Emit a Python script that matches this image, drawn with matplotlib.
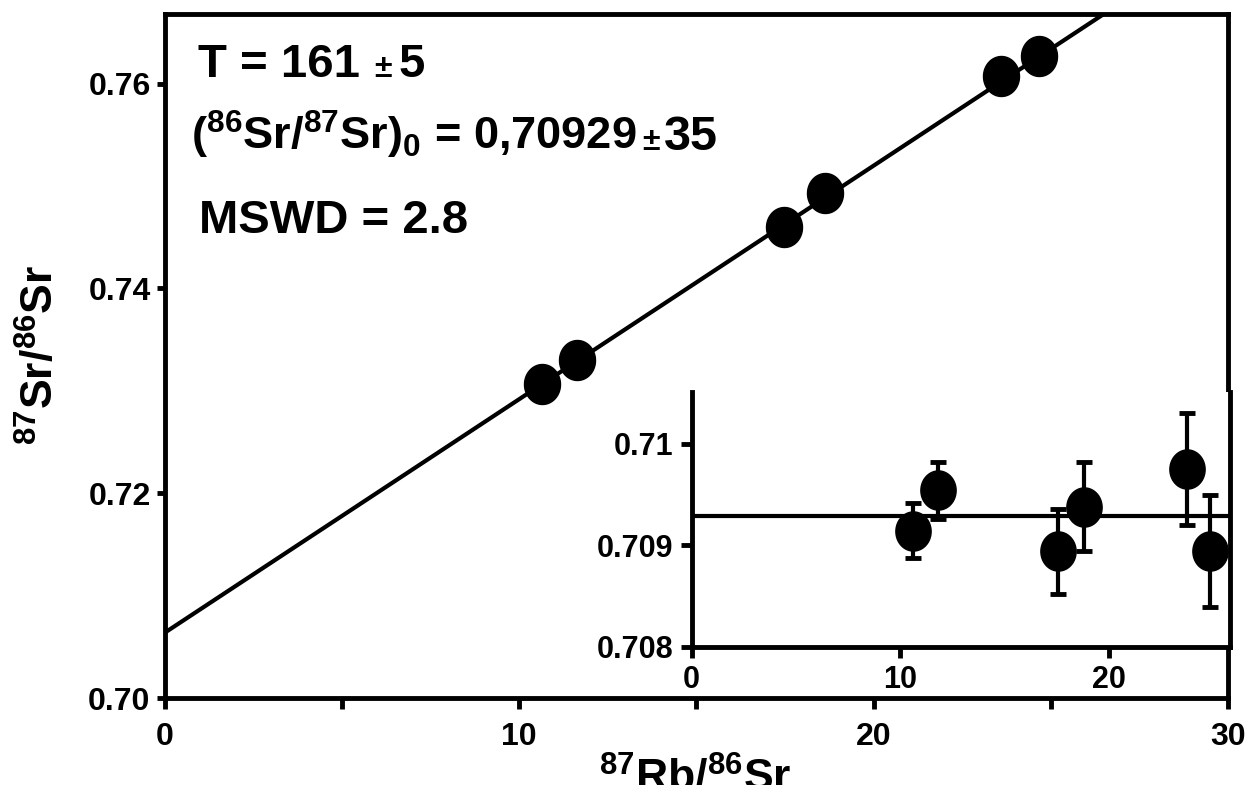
import numpy as np
import matplotlib
matplotlib.use("Agg")
import matplotlib.pyplot as plt
from matplotlib.path import Path

plt.rcParams['font.family'] = ['Liberation Sans', 'DejaVu Sans']
plt.rcParams['font.weight'] = 'bold'
plt.rcParams['mathtext.fontset'] = 'custom'
plt.rcParams['mathtext.rm'] = 'Liberation Sans:bold'
plt.rcParams['mathtext.it'] = 'Liberation Sans:bold'
plt.rcParams['mathtext.bf'] = 'Liberation Sans:bold'

# isochron data
rb_sr = [10.64, 11.65, 17.47, 18.62, 23.61, 24.68]
sr_sr = [0.73063, 0.73300, 0.74598, 0.74934, 0.76078, 0.76266]

# fitted isochron
slope = 0.002281
intercept = 0.70636

# initial ratios (inset)
rb_sr_in = [10.63, 11.81, 17.55, 18.78, 23.75, 24.84]
sr0 = [0.70914, 0.70954, 0.70894, 0.70938, 0.70975, 0.70894]
sr0_err = [0.00027, 0.00028, 0.00042, 0.00044, 0.00055, 0.00055]
sr0_mean = 0.70929

W, H = 1246, 785
fig = plt.figure(figsize=(W / 100, H / 100), dpi=100)

def px(x0, y0, x1, y1):
    return [x0 / W, 1 - y1 / H, (x1 - x0) / W, (y1 - y0) / H]

lw = 3.5
t = np.linspace(0, 2 * np.pi, 80)
ell = Path(np.column_stack([0.9 * np.cos(t), np.sin(t)]))

ax = fig.add_axes(px(164.5, 14, 1228, 698))
xs = np.array([0, 30])
ax.plot(xs, intercept + slope * xs, color='black', lw=3)
ax.plot(rb_sr, sr_sr, ls='none', marker=ell, ms=28.8, color='black')
ax.set_xlim(0, 30)
ax.set_ylim(0.70, 0.7668)
ax.set_xticks(np.arange(0, 31, 5))
ax.set_xticklabels(['0', '', '10', '', '20', '', '30'])
ax.set_yticks([0.70, 0.72, 0.74, 0.76])
ax.set_yticklabels(['0.70', '0.72', '0.74', '0.76'])
ax.tick_params(axis='x', length=8, width=lw, pad=9, labelsize=23)
ax.tick_params(axis='y', length=6, width=lw, pad=4, labelsize=23)
for s in ax.spines.values():
    s.set_linewidth(lw)

ins = fig.add_axes(px(691.7, 391.7, 1230, 646.7))
ins.axhline(sr0_mean, color='black', lw=3)
ins.errorbar(rb_sr_in, sr0, yerr=sr0_err, ls='none', marker=ell, ms=28.2,
             color='black', elinewidth=3, capsize=6, capthick=3.5)
ins.set_xlim(0, 25.8)
ins.set_ylim(0.708, 0.71051)
ins.set_xticks([0, 10, 20])
ins.set_yticks([0.708, 0.709, 0.710])
ins.set_yticklabels(['0.708', '0.709', '0.71'])
ins.tick_params(length=8, width=lw, pad=5, labelsize=22)
ins.spines['top'].set_visible(False)
for s in ['left', 'bottom', 'right']:
    ins.spines[s].set_linewidth(lw)

renderer = fig.canvas.get_renderer()

def ftext(x, y, s, **kw):
    return fig.text(x / W, 1 - y / H, s, va='baseline', ha='left', **kw)

def after(txt, gap, y, s, **kw):
    # place a piece of text just to the right of another one
    x_end = txt.get_window_extent(renderer).x1
    return ftext(x_end + gap, y, s, **kw)

t1 = ftext(198, 77, 'T = 161', fontsize=34)
t1b = after(t1, 14, 77, '±', fontsize=23)
after(t1b, 7, 77, '5', fontsize=34)

t2 = ftext(191, 150, '($^{86}$Sr/$^{87}$Sr)$_0$ = 0,70929', fontsize=32.5)
t2b = after(t2, 6, 150, '±', fontsize=23)
after(t2b, 4, 150, '35', fontsize=35)

ftext(199, 233, 'MSWD = 2.8', fontsize=34)

fig.text(695 / W, 1 - 792 / H, '$^{87}$Rb/$^{86}$Sr', ha='center',
         va='baseline', fontsize=32)
fig.text(41 / W, 1 - 355 / H, '$^{87}$Sr/$^{86}$Sr', ha='center',
         va='center', rotation=90, fontsize=32)

fig.savefig('out.png', dpi=100)
